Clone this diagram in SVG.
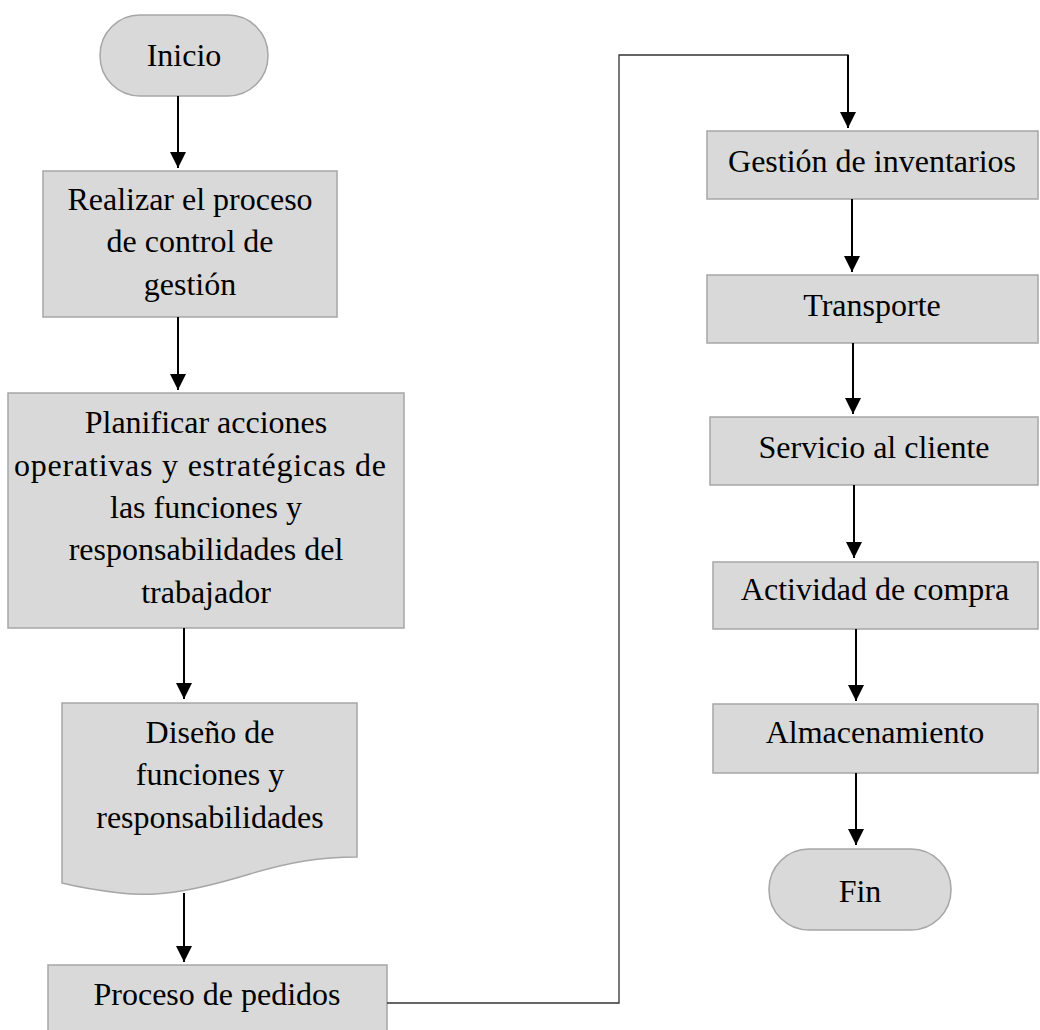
<svg xmlns="http://www.w3.org/2000/svg" width="1040" height="1030" viewBox="0 0 1040 1030">
  <style>
    .shape { fill: #d9d9d9; stroke: #a6a6a6; stroke-width: 1.5; }
    .label { font-family: "Liberation Serif", "Times New Roman", serif; font-size: 32px; fill: #000; text-anchor: middle; }
    .flow { fill: none; stroke: #000; stroke-width: 2; }
    .route { fill: none; stroke: #333; stroke-width: 1.3; }
  </style>
  <defs>
    <marker id="arrow" markerUnits="userSpaceOnUse" markerWidth="16" markerHeight="17" refX="16" refY="8" orient="auto">
      <path d="M0,0 L16,8 L0,16 Z" fill="#000"/>
    </marker>
  </defs>
  <rect width="1040" height="1030" fill="#fff"/>

  <g id="inicio">
    <rect class="shape" x="100" y="15" width="168" height="81" rx="40" ry="40"/>
    <text class="label" x="184" y="66">Inicio</text>
  </g>

  <g id="control-gestion">
    <rect class="shape" x="43" y="171" width="294" height="146"/>
    <text class="label" x="190" y="210">Realizar el proceso</text>
    <text class="label" x="190" y="252">de control de</text>
    <text class="label" x="190" y="295">gestión</text>
  </g>

  <g id="planificar">
    <rect class="shape" x="8" y="393" width="396" height="235"/>
    <text class="label" x="206" y="433">Planificar acciones</text>
    <text class="label" x="200" y="476" textLength="372" lengthAdjust="spacing">operativas y estratégicas de</text>
    <text class="label" x="206" y="518">las funciones y</text>
    <text class="label" x="206" y="560">responsabilidades del</text>
    <text class="label" x="206" y="603">trabajador</text>
  </g>

  <g id="diseno">
    <path class="shape" d="M62,703 H357 V857 C320,857 290,862 250,874 C200,889 160,898 120,893 C95,890 78,887 62,883 Z"/>
    <text class="label" x="210" y="743">Diseño de</text>
    <text class="label" x="210" y="785">funciones y</text>
    <text class="label" x="210" y="828">responsabilidades</text>
  </g>

  <g id="pedidos">
    <rect class="shape" x="48" y="965" width="339" height="80"/>
    <text class="label" x="217" y="1005">Proceso de pedidos</text>
  </g>

  <g id="inventarios">
    <rect class="shape" x="707" y="131" width="331" height="68"/>
    <text class="label" x="872" y="172">Gestión de inventarios</text>
  </g>

  <g id="transporte">
    <rect class="shape" x="707" y="275" width="331" height="68"/>
    <text class="label" x="872" y="316">Transporte</text>
  </g>

  <g id="servicio">
    <rect class="shape" x="710" y="417" width="328" height="68"/>
    <text class="label" x="874" y="458">Servicio al cliente</text>
  </g>

  <g id="compra">
    <rect class="shape" x="713" y="562" width="325" height="67"/>
    <text class="label" x="875" y="600">Actividad de compra</text>
  </g>

  <g id="almacenamiento">
    <rect class="shape" x="713" y="704" width="325" height="69"/>
    <text class="label" x="875" y="743">Almacenamiento</text>
  </g>

  <g id="fin">
    <rect class="shape" x="769" y="849" width="182" height="81" rx="40" ry="40"/>
    <text class="label" x="860" y="902">Fin</text>
  </g>

  <g id="connectors">
    <line class="flow" x1="178" y1="96" x2="178" y2="168" marker-end="url(#arrow)"/>
    <line class="flow" x1="178" y1="317" x2="178" y2="390" marker-end="url(#arrow)"/>
    <line class="flow" x1="184" y1="628" x2="184" y2="699" marker-end="url(#arrow)"/>
    <line class="flow" x1="184" y1="893" x2="184" y2="962" marker-end="url(#arrow)"/>
    <path class="route" d="M387,1003 H619 V55 H848 V80"/>
    <line class="flow" x1="848" y1="55" x2="848" y2="128" marker-end="url(#arrow)"/>
    <line class="flow" x1="852" y1="199" x2="852" y2="272" marker-end="url(#arrow)"/>
    <line class="flow" x1="853" y1="343" x2="853" y2="414" marker-end="url(#arrow)"/>
    <line class="flow" x1="854" y1="485" x2="854" y2="558" marker-end="url(#arrow)"/>
    <line class="flow" x1="856" y1="629" x2="856" y2="701" marker-end="url(#arrow)"/>
    <line class="flow" x1="856" y1="773" x2="856" y2="845" marker-end="url(#arrow)"/>
  </g>
</svg>
